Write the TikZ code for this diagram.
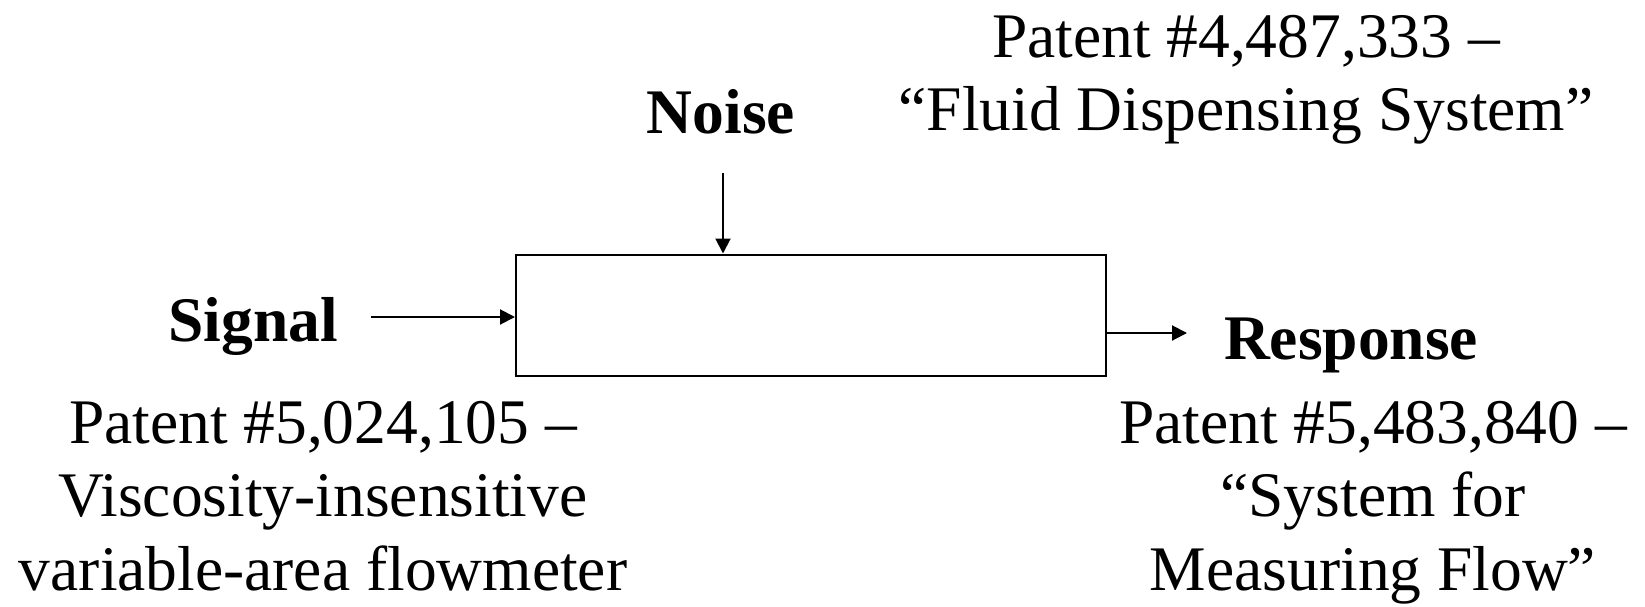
\documentclass[tikz,border=0pt]{standalone}
\usepackage{fontspec}
\setmainfont{Liberation Serif}
\usetikzlibrary{arrows.meta}
\begin{document}
\begin{tikzpicture}[x=1pt,y=-1pt,
  conn/.style={line width=2pt,-{Triangle[length=15pt,width=15pt]}},
  lbl/.style={font=\fontsize{63.5}{73.4}\selectfont\bfseries,inner sep=0pt,anchor=base},
  pat/.style={font=\fontsize{63.5}{73.4}\selectfont,inner sep=0pt,align=center,anchor=base}]
\useasboundingbox (0,0) rectangle (1645,607);
\node[draw,line width=2pt,minimum width=590pt,minimum height=121pt,inner sep=0pt] (box) at (811,315) {};
\node[lbl] (noise) at (721,133) {Noise};
\node[lbl] (signal) at (253,341) {Signal};
\node[lbl] (resp) at (1351,359) {Response};
\node[pat] (ptop) at (1246,131) {Patent \#4,487,333 --\\``Fluid Dispensing System''};
\node[pat] (pleft) at (323,590) {Patent \#5,024,105 --\\Viscosity-insensitive\\variable-area flowmeter};
\node[pat] (pright) at (1373,590) {Patent \#5,483,840 --\\``System for\\Measuring Flow''};
\coordinate (nstart) at (723,173);
\coordinate (sstart) at (371,317);
\coordinate (rend) at (1187,333);
\draw[conn] (nstart) -- (nstart |- box.north);
\draw[conn] (sstart) -- (sstart -| box.west);
\draw[conn] (rend -| box.east) -- (rend);
\end{tikzpicture}
\end{document}
